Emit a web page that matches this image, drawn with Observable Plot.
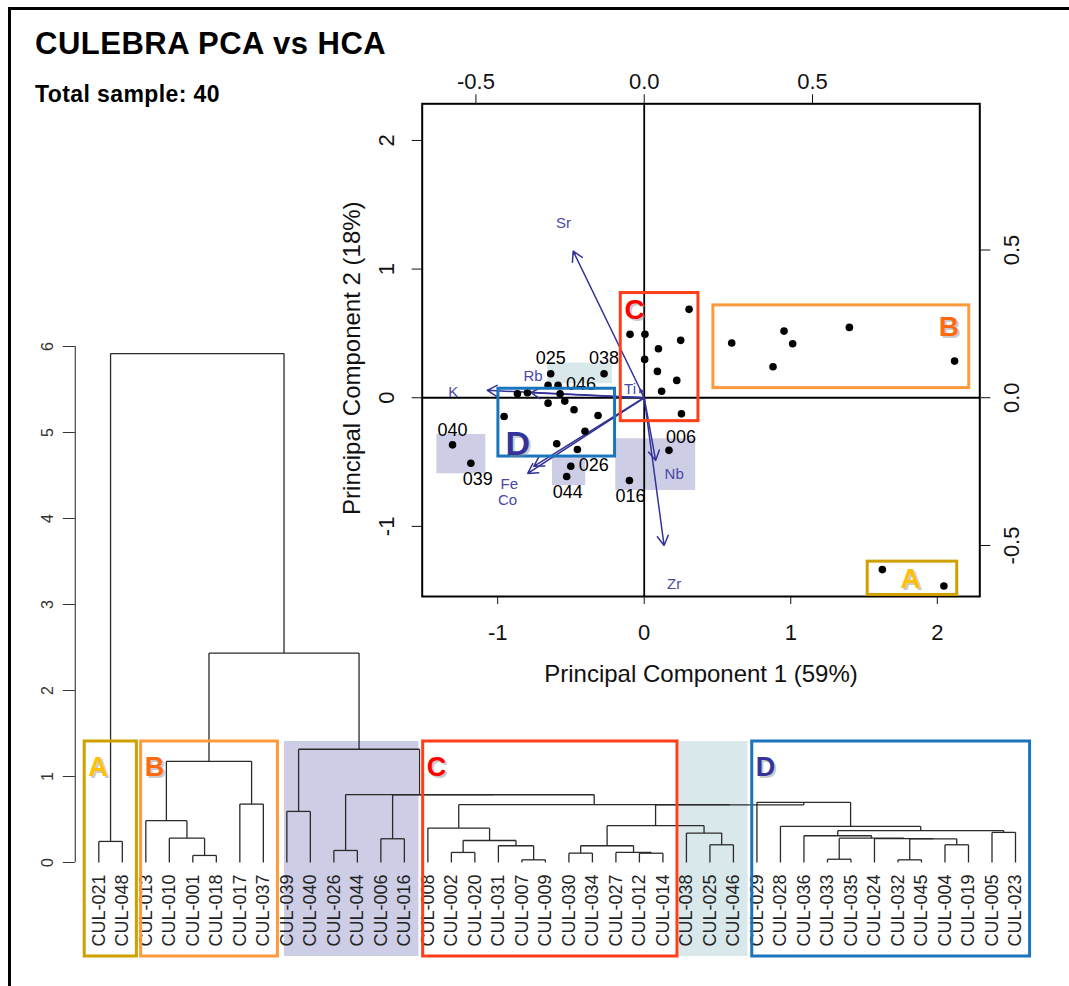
<!DOCTYPE html>
<html><head><meta charset="utf-8">
<script src="https://cdn.jsdelivr.net/npm/d3@7"></script>
<script src="https://cdn.jsdelivr.net/npm/@observablehq/plot@0.6"></script>
<style>
html,body{margin:0;padding:0;background:#fff;}
#page{position:relative;width:1069px;height:986px;overflow:hidden;font-family:"Liberation Sans",Arial,Helvetica,sans-serif;}
#border{position:absolute;left:8px;top:7px;width:1200px;height:1200px;border-top:3px solid #000;border-left:3px solid #000;}
#title{position:absolute;left:35px;top:28px;font-size:31px;letter-spacing:0.5px;font-weight:bold;line-height:1;white-space:nowrap;}
#subtitle{position:absolute;left:35px;top:83px;font-size:23px;letter-spacing:0.4px;font-weight:bold;line-height:1;white-space:nowrap;}
.layer{position:absolute;left:0;top:0;}
.layer svg{overflow:visible;background:transparent;}
</style></head><body>
<div id="page">
  <div id="border"></div>
  <div id="title">CULEBRA PCA vs HCA</div>
  <div id="subtitle">Total sample: 40</div>
  <div id="dendro" class="layer"></div>
  <div id="pca" class="layer"></div>
</div>
<script>
const FONT = '"Liberation Sans", Arial, Helvetica, sans-serif';

// ---------------- PCA data ----------------
const sampleIds = ["","","","","","","","","","",
  "025","038","046",
  "","","","","","","","","","","","",
  "040","039","026","044","016","006",
  "","","","","","",
  "",""];
const pc1 = [0.306,-0.097,0.005,0.249,0.097,0.003,0.090,0.222,0.119,0.254,
  -0.638,-0.274,-0.588,
  -0.656,-0.865,-0.797,-0.574,-0.656,-0.542,-0.956,-0.479,-0.315,-0.404,-0.597,-0.456,
  -1.308,-1.183,-0.501,-0.529,-0.101,0.169,
  0.597,0.954,1.013,0.879,1.400,2.118,
  1.625,2.045];
const pc2 = [0.687,0.493,0.493,0.446,0.381,0.298,0.205,0.135,0.051,-0.125,
  0.187,0.187,0.096,
  0.096,0.031,0.039,0.031,-0.042,-0.026,-0.146,-0.093,-0.138,-0.261,-0.358,-0.402,
  -0.366,-0.509,-0.532,-0.612,-0.643,-0.409,
  0.425,0.518,0.420,0.241,0.547,0.285,
  -1.336,-1.463];
const labelSideIds = ["025","038","046","040","039","026","044","016","006"];
const labelSides   = ["N","N","E","N","SE","E","S","S","NE"];

const pc1Ticks = [-1, 0, 1, 2];
const pc2Ticks = [-1, 0, 1, 2];
const loadingTicks = [-0.5, 0, 0.5];
const LOAD_RATIO = 2.297; // biplot ratio between score and loading axes

const variables = ["Sr","K","Rb","Ti","Fe","Co","Nb","Zr"];
const loadX = [-0.211,-0.466,-0.337,-0.012,-0.328,-0.346,0.034,0.059];
const loadY = [0.496,0.025,0.017,0.028,-0.232,-0.256,-0.212,-0.500];
const varLabelX = [-0.240,-0.567,-0.330,-0.042,-0.401,-0.406,0.089,0.089];
const varLabelY = [0.590,0.019,0.073,0.030,-0.291,-0.348,-0.257,-0.630];

// PCA annotation regions (score units)
const shadeKind = ["teal","purple","purple","purple"];
const shadeX1 = [-0.660,-1.415,-0.626,-0.194];
const shadeX2 = [-0.217,-1.081,-0.399,0.351];
const shadeY1 = [0.109,-0.591,-0.682,-0.721];
const shadeY2 = [0.269,-0.286,-0.449,-0.319];
const boxName = ["D","C","B","A"];
const boxX1 = [-0.995,-0.160,0.472,1.525];
const boxX2 = [-0.199,0.370,2.218,2.136];
const boxY1 = [-0.457,-0.182,0.075,-1.533];
const boxY2 = [0.070,0.814,0.718,-1.274];
const boxLetterX = [-0.863,-0.065,2.079,1.818];
const boxLetterY = [-0.362,0.685,0.549,-1.409];

// ---------------- HCA data ----------------
const leaves = ["CUL-021","CUL-048","CUL-013","CUL-010","CUL-001","CUL-018","CUL-017","CUL-037",
  "CUL-039","CUL-040","CUL-026","CUL-044","CUL-006","CUL-016",
  "CUL-008","CUL-002","CUL-020","CUL-031","CUL-007","CUL-009","CUL-030","CUL-034","CUL-027","CUL-012","CUL-014",
  "CUL-038","CUL-025","CUL-046",
  "CUL-029","CUL-028","CUL-036","CUL-033","CUL-035","CUL-024","CUL-032","CUL-045","CUL-004","CUL-019","CUL-005","CUL-023"];
const merges = [
  ["a1","CUL-021","CUL-048",0.245],
  ["b1","CUL-001","CUL-018",0.082],
  ["b2","CUL-010","b1",0.283],
  ["b3","CUL-013","b2",0.486],
  ["b4","CUL-017","CUL-037",0.679],
  ["b5","b3","b4",1.177],
  ["p1","CUL-039","CUL-040",0.594],
  ["p2","CUL-026","CUL-044",0.140],
  ["p3","CUL-006","CUL-016",0.276],
  ["c1","CUL-002","CUL-020",0.117],
  ["c2","CUL-007","CUL-009",0.031],
  ["c3","CUL-031","c2",0.195],
  ["c4","c1","c3",0.256],
  ["c5","CUL-008","c4",0.400],
  ["c6","CUL-030","CUL-034",0.109],
  ["c7","CUL-012","CUL-014",0.108],
  ["c8","CUL-027","c7",0.117],
  ["c9","c6","c8",0.195],
  ["t1","CUL-025","CUL-046",0.206],
  ["t2","CUL-038","t1",0.342],
  ["c10","c9","t2",0.428],
  ["d1","CUL-033","CUL-035",0.038],
  ["d2","CUL-032","CUL-045",0.031],
  ["d3","CUL-004","CUL-019",0.206],
  ["d4","d2","d3",0.275],
  ["d5","CUL-024","d4",0.278],
  ["d6","d1","d5",0.283],
  ["d7","CUL-036","d6",0.311],
  ["d8","CUL-005","CUL-023",0.350],
  ["d9","d7","d8",0.370],
  ["d10","CUL-028","d9",0.420],
  ["d11","CUL-029","d10",0.700],
  ["q1","c10","d11",0.670],
  ["q2","c5","q1",0.672],
  ["p4","p3","q2",0.788],
  ["p5","p2","p4",0.790],
  ["p6","p1","p5",1.317],
  ["r1","b5","p6",2.435],
  ["r2","a1","r1",5.918]
];
const heightTicks = [0,1,2,3,4,5,6];
const groupNames = ["A","B","P","C","T","D"];
const groupFirst = ["CUL-021","CUL-013","CUL-039","CUL-008","CUL-038","CUL-029"];
const groupLast  = ["CUL-048","CUL-037","CUL-016","CUL-014","CUL-046","CUL-023"];

// ---------------- styles ----------------
const letterColor = {A:"#FFC000", B:"#FF6A10", C:"#FF0000", D:"#333399"};
const boxColor = {A:"#CFA000", B:"#FF9A3C", C:"#FF3F1A", D:"#1B75BC"};
const shadeColor = {purple:"#CDCDE5", teal:"#D9E8EB", P:"#CDCDE5", T:"#D9E8EB"};
const boxPadLeft = {A:-0.6, B:-0.2, P:-0.1, C:-0.2, T:-0.3, D:-0.2};

// ---------------- PCA plot ----------------
const pts = pc1.map((x,i)=>({x, y: pc2[i], id: sampleIds[i]}));
const labeled = labelSideIds.map((id,k)=>{ const p = pts.find(d=>d.id===id); return {...p, side: labelSides[k]}; });
const vars = variables.map((v,i)=>({v, x2: loadX[i]*LOAD_RATIO, y2: loadY[i]*LOAD_RATIO,
  lx: varLabelX[i]*LOAD_RATIO, ly: varLabelY[i]*LOAD_RATIO}));
const shades = shadeKind.map((k,i)=>({k, x1: shadeX1[i], x2: shadeX2[i], y1: shadeY1[i], y2: shadeY2[i]}));
const boxes = boxName.map((n,i)=>({n, x1: boxX1[i], x2: boxX2[i], y1: boxY1[i], y2: boxY2[i], lx: boxLetterX[i], ly: boxLetterY[i]}));
const sideStyle = {
  N:{dx:0, dy:-15, textAnchor:"middle"},
  S:{dx:1, dy:16, textAnchor:"middle"},
  E:{dx:8, dy:-1, textAnchor:"start"},
  SE:{dx:7, dy:16, textAnchor:"middle"},
  NE:{dx:12, dy:-13, textAnchor:"middle"}
};
const fmtInt = d => String(d);
const fmtLoad = d => (Math.round(d/LOAD_RATIO*10)/10).toFixed(1);

const pca = Plot.plot({
  width: 1069, height: 700,
  marginTop: 103.3, marginBottom: 104, marginLeft: 421.7, marginRight: 89.7,
  x: {domain: [-1.515, 2.29], label: null, axis: null},
  y: {domain: [-1.545, 2.285], label: null, axis: null},
  style: {fontFamily: FONT, background: "transparent", overflow: "visible", color: "#111"},
  marks: [
    Plot.rect(shades, {x1:"x1", x2:"x2", y1:"y1", y2:"y2", fill: d => shadeColor[d.k]}),
    Plot.ruleX([0], {stroke:"#000", strokeWidth:1.8}),
    Plot.ruleY([0], {stroke:"#000", strokeWidth:1.8}),
    Plot.frame({stroke:"#000", strokeWidth:2}),
    Plot.axisX({anchor:"bottom", ticks: pc1Ticks, tickFormat: fmtInt, tickSize: 8, tickPadding: 20, fontSize: 22}),
    Plot.axisX({anchor:"top", ticks: loadingTicks.map(v=>v*LOAD_RATIO), tickFormat: fmtLoad, tickSize: 10, tickPadding: 5, fontSize: 22}),
    Plot.axisY({anchor:"left", ticks: pc2Ticks, tickFormat: fmtInt, tickSize: 10, tickPadding: 18, tickRotate: -90, textAnchor:"middle", lineAnchor:"bottom", fontSize: 22}),
    Plot.axisY({anchor:"right", ticks: loadingTicks.map(v=>v*LOAD_RATIO), tickFormat: fmtLoad, tickSize: 10, tickPadding: 14, tickRotate: -90, textAnchor:"middle", lineAnchor:"top", fontSize: 22}),
    Plot.text(["Principal Component 1 (59%)"], {frameAnchor:"bottom", textAnchor:"middle", dy: 85, fontSize: 24, fill:"#111"}),
    Plot.text(["Principal Component 2 (18%)"], {frameAnchor:"left", textAnchor:"middle", dx: -70, dy: 8, rotate: -90, fontSize: 24, fill:"#111"}),
    Plot.arrow(vars, {x1: d=>0, y1: d=>0, x2:"x2", y2:"y2", stroke:"#333399", strokeWidth:1.5, headLength: 11, headAngle: 60}),
    Plot.text(vars, {x:"lx", y:"ly", text:"v", fill:"#4848A8", fontSize: 15}),
    Plot.dot(pts, {x:"x", y:"y", r: 3.8, fill:"#000", stroke: null}),
    ...Object.entries(sideStyle).map(([s,o]) => Plot.text(labeled.filter(d=>d.side===s), {x:"x", y:"y", text:"id", fontSize: 18, fill:"#000", ...o})),
    Plot.rect(boxes, {x1:"x1", x2:"x2", y1:"y1", y2:"y2", fill:"none", stroke: d => boxColor[d.n], strokeWidth: 3}),
    Plot.text(boxes, {x:"lx", y:"ly", text:"n", dx: 2, dy: 2, fill:"#888", fillOpacity: 0.45, fontWeight:"bold", fontSize: d => d.n==="D" ? 34 : 28}),
    Plot.text(boxes, {x:"lx", y:"ly", text:"n", fill: d => letterColor[d.n], fontWeight:"bold", fontSize: d => d.n==="D" ? 34 : 28})
  ]
});
document.getElementById("pca").appendChild(pca);

// ---------------- Dendrogram ----------------
const pos = new Map();
leaves.forEach((l,i)=>pos.set(l, {x: i+1, h: 0}));
const segs = [];
for (const [id, L, R, h] of merges) {
  const a = pos.get(L), b = pos.get(R);
  segs.push({x1:a.x, y1:a.h, x2:a.x, y2:h});
  segs.push({x1:b.x, y1:b.h, x2:b.x, y2:h});
  segs.push({x1:a.x, y1:h, x2:b.x, y2:h});
  pos.set(id, {x:(a.x+b.x)/2, h});
}
const leafData = leaves.map((name,i)=>({name, i: i+1}));
const BOX_TOP = 1.407, BOX_BOTTOM = -1.093;
const groups = groupNames.map((g,k)=>({g,
  x1: leaves.indexOf(groupFirst[k]) + 1 + boxPadLeft[g],
  x2: leaves.indexOf(groupLast[k]) + 1 + 0.62}));
const shadedGroups = groups.filter(d => d.g==="P" || d.g==="T");
const outlinedGroups = groups.filter(d => !(d.g==="P" || d.g==="T"));

const dendro = Plot.plot({
  width: 1069, height: 986,
  marginTop: 346, marginBottom: 124, marginLeft: 74.8, marginRight: 54,
  x: {domain: [0, 40], label: null, axis: null},
  y: {domain: [0, 6], label: null, axis: null},
  style: {fontFamily: FONT, background: "transparent", overflow: "visible", color: "#333"},
  marks: [
    Plot.rect(shadedGroups, {x1:"x1", x2:"x2", y1: d=>BOX_BOTTOM, y2: d=>BOX_TOP, fill: d => shadeColor[d.g]}),
    Plot.ruleX([0], {y1: d=>0, y2: d=>6, stroke:"#444", strokeWidth: 1.2}),
    Plot.axisY({anchor:"left", ticks: heightTicks, tickFormat: fmtInt, tickSize: 12, tickPadding: 10, tickRotate: -90, textAnchor:"middle", lineAnchor:"bottom", fontSize: 16}),
    Plot.link(segs, {x1:"x1", y1:"y1", x2:"x2", y2:"y2", stroke:"#2a2a2a", strokeWidth: 1.3}),
    Plot.text(leafData, {x:"i", y: d=>0, text:"name", rotate: -90, textAnchor:"end", lineAnchor:"middle", dy: 12, fontSize: 18, fill:"#222"}),
    Plot.rect(outlinedGroups, {x1:"x1", x2:"x2", y1: d=>BOX_BOTTOM, y2: d=>BOX_TOP, fill:"none", stroke: d => boxColor[d.g], strokeWidth: 3}),
    Plot.text(outlinedGroups, {x: d=>d.x1 + 0.15, y: d=>1.108, text:"g", textAnchor:"start", dx: 2, dy: 2, fill:"#888", fillOpacity: 0.45, fontWeight:"bold", fontSize: 27}),
    Plot.text(outlinedGroups, {x: d=>d.x1 + 0.15, y: d=>1.108, text:"g", textAnchor:"start", fill: d => letterColor[d.g], fontWeight:"bold", fontSize: 27})
  ]
});
document.getElementById("dendro").appendChild(dendro);
</script>
</body></html>
